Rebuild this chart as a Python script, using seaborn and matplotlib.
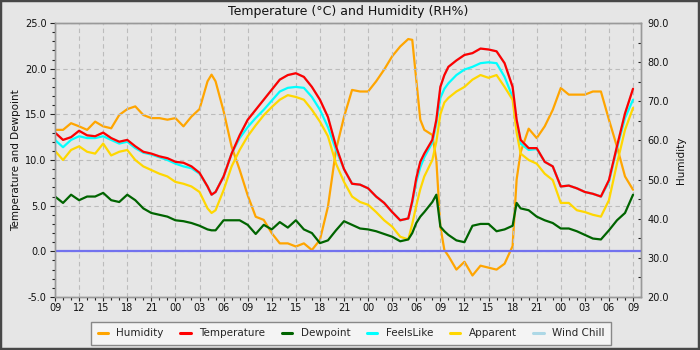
import matplotlib
matplotlib.use("Agg")
import matplotlib.pyplot as plt
import seaborn as sns
from matplotlib.patches import Rectangle
from matplotlib.ticker import MultipleLocator, FixedLocator, FormatStrFormatter

# ---------------- data (hours since 09:00 on day 1) ----------------
hours = [0, 1, 2, 3, 4, 5, 6, 7, 8, 9, 10, 11, 12, 13, 14, 15, 16, 17, 18, 19,
         19.5,
         20, 21, 22, 23, 24, 25, 26, 27, 28, 29, 30, 31, 32, 33, 34, 35, 36, 37, 38,
         39, 40, 41, 42, 43, 44,
         44.5, 45, 45.5, 46, 47, 47.5, 48, 48.5,
         49, 50, 51, 52, 53, 54, 55, 56, 57,
         57.5,
         58, 59, 60, 61, 62, 63, 64, 65, 66, 67, 68, 69, 70, 71, 72]

temperature = [13.0, 12.2, 12.5, 13.2, 12.7, 12.6, 13.0, 12.4, 12.0, 12.2, 11.5, 10.9, 10.7, 10.4, 10.2, 9.8, 9.7, 9.3, 8.6, 7.1,
               6.2,
               6.5, 8.2, 10.7, 12.7, 14.4, 15.5, 16.6, 17.7, 18.8, 19.3, 19.5, 19.1, 18.0, 16.6, 14.7, 11.5, 9.0, 7.4, 7.3,
               6.9, 6.0, 5.3, 4.3, 3.4, 3.6,
               5.5, 8.0, 9.8, 10.7, 12.2, 14.4, 18.0, 19.3,
               20.2, 20.9, 21.5, 21.7, 22.2, 22.1, 21.9, 20.6, 18.0,
               14.4,
               12.2, 11.3, 11.3, 9.8, 9.3, 7.1, 7.2, 6.9, 6.5, 6.3, 6.0, 7.8, 11.5, 15.1, 17.8]

feels_like = [12.2, 11.4, 12.2, 12.6, 12.4, 12.4, 12.6, 12.2, 11.8, 12.0, 11.3, 10.8, 10.6, 10.3, 10.0, 9.6, 9.3, 9.1, 8.5, 7.1,
              6.2,
              6.5, 8.2, 10.7, 12.4, 13.6, 14.6, 15.5, 16.5, 17.5, 17.9, 18.0, 17.9, 16.9, 15.5, 13.6, 11.1, 9.0, 7.4, 7.3,
              6.9, 6.0, 5.3, 4.3, 3.4, 3.6,
              5.3, 7.6, 9.2, 10.3, 11.9, 14.0, 16.8, 17.8,
              18.4, 19.3, 19.9, 20.2, 20.6, 20.7, 20.6, 19.1, 16.9,
              13.8,
              11.8, 11.1, 11.2, 9.8, 9.3, 7.1, 7.2, 6.9, 6.5, 6.3, 6.0, 7.6, 11.3, 14.6, 16.6]

apparent = [11.0, 10.0, 11.1, 11.5, 10.9, 10.7, 11.8, 10.5, 10.9, 11.1, 10.0, 9.3, 8.9, 8.5, 8.2, 7.6, 7.4, 7.1, 6.5, 4.7,
            4.2,
            4.5, 6.7, 9.3, 11.1, 12.6, 13.8, 14.9, 15.8, 16.6, 17.1, 16.9, 16.6, 15.5, 14.2, 12.6, 9.6, 7.6, 6.0, 5.4,
            5.1, 4.3, 3.4, 2.7, 1.6, 1.3,
            3.0, 5.0, 6.8, 8.2, 10.0, 12.0, 15.0, 16.3,
            16.8, 17.5, 18.0, 18.8, 19.3, 19.0, 19.3, 18.0, 16.6,
            13.0,
            10.7, 10.0, 9.6, 8.5, 7.8, 5.3, 5.3, 4.5, 4.3, 4.0, 3.8, 5.6, 9.6, 13.3, 15.7]

dewpoint = [6.0, 5.3, 6.2, 5.6, 6.0, 6.0, 6.4, 5.6, 5.4, 6.2, 5.6, 4.7, 4.2, 4.0, 3.8, 3.4, 3.3, 3.1, 2.8, 2.4,
            2.3,
            2.3, 3.4, 3.4, 3.4, 2.9, 1.9, 2.9, 2.4, 3.2, 2.6, 3.4, 2.4, 2.0, 0.9, 1.2, 2.3, 3.3, 2.9, 2.5,
            2.4, 2.2, 1.9, 1.6, 1.1, 1.3,
            2.0, 3.1, 3.8, 4.3, 5.4, 6.2, 2.7, 2.2,
            1.8, 1.2, 1.0, 2.8, 3.0, 3.0, 2.2, 2.4, 2.8,
            5.3,
            4.7, 4.5, 3.8, 3.4, 3.1, 2.5, 2.5, 2.2, 1.8, 1.4, 1.3, 2.3, 3.4, 4.2, 6.2]

humidity = [62.7, 62.7, 64.4, 63.6, 62.7, 64.8, 63.6, 63.1, 66.5, 68.0, 68.7, 66.5, 65.7, 65.7, 65.3, 65.7, 63.6, 66.1, 68.0, 75.1,
            76.8,
            75.1, 67.5, 58.4, 52.5, 46.0, 40.5, 39.7, 36.3, 33.7, 33.7, 32.9, 33.7, 32.0, 34.6, 43.1, 57.6, 66.0, 72.9, 72.5,
            72.5, 75.1, 78.1, 81.5, 84.0, 85.9,
            85.7, 75.5, 65.3, 62.7, 61.4, 55.0, 38.0, 32.0,
            30.5, 27.0, 29.0, 25.5, 28.0, 27.5, 27.0, 28.5, 33.0,
            50.0,
            57.0, 63.0, 60.6, 63.6, 67.8, 73.4, 71.7, 71.7, 71.7, 72.5, 72.5, 65.3, 58.4, 50.8, 47.4]

wind_chill = temperature  # hidden beneath the temperature trace

x_tick_labels = ["09", "12", "15", "18", "21", "00", "03", "06",
                 "09", "12", "15", "18", "21", "00", "03", "06",
                 "09", "12", "15", "18", "21", "00", "03", "06", "09"]
series_names = ["Humidity", "Temperature", "Dewpoint", "FeelsLike", "Apparent", "Wind Chill"]
series_colors = ["#ffa500", "#ff0000", "#006400", "#00ffff", "#ffd700", "#add8e6"]

# ---------------- styling ----------------
BG = "#e6e6e6"
sns.set_theme(style="white")
plt.rcParams["font.family"] = ["DejaVu Sans"]
plt.rcParams["axes.edgecolor"] = "#999999"

fig = plt.figure(figsize=(7, 3.5), dpi=100, facecolor=BG)
ax = fig.add_axes([55 / 700, 1 - 297 / 350, (640.5 - 55) / 700, (297 - 23) / 350])
ax2 = ax.twinx()
ax.set_zorder(ax2.get_zorder() + 1)
ax.patch.set_visible(False)
ax2.patch.set_visible(True)
ax2.set_facecolor(BG)

LW = 1.6
handles = {}

sns.lineplot(x=hours, y=humidity, ax=ax2, color=series_colors[0], lw=LW,
             estimator=None, legend=False)
handles["Humidity"] = ax2.get_lines()[-1]

order = [("FeelsLike", feels_like, 3), ("Apparent", apparent, 4),
         ("Dewpoint", dewpoint, 2), ("Wind Chill", wind_chill, 5),
         ("Temperature", temperature, 1)]
for name, vals, ci in order:
    sns.lineplot(x=hours, y=vals, ax=ax, color=series_colors[ci], lw=LW,
                 estimator=None, legend=False)
    handles[name] = ax.get_lines()[-1]

ax.axhline(0, color="#7272ee", lw=1.6, zorder=1.5)

# axes limits / ticks
ax.set_xlim(0, 72.93)
ax.set_ylim(-5, 25)
ax2.set_ylim(20, 90)

ax.xaxis.set_major_locator(FixedLocator(list(range(0, 73, 3))))
ax.set_xticklabels(x_tick_labels)
ax.xaxis.set_minor_locator(MultipleLocator(1))
ax.yaxis.set_major_locator(MultipleLocator(5))
ax.yaxis.set_minor_locator(MultipleLocator(1))
ax.yaxis.set_major_formatter(FormatStrFormatter("%.1f"))
ax2.yaxis.set_major_locator(MultipleLocator(10))
ax2.yaxis.set_minor_locator(MultipleLocator(5))
ax2.yaxis.set_major_formatter(FormatStrFormatter("%.1f"))

ax.tick_params(axis="x", which="major", direction="out", length=3.0, width=0.8,
               color="#222222", labelsize=7, pad=1.5, labelcolor="#111111", bottom=True)
ax.tick_params(axis="x", which="minor", direction="out", length=2.4, width=0.8,
               color="#222222", bottom=True)
ax.tick_params(axis="y", which="major", direction="out", length=3.6, width=0.8,
               color="#222222", labelsize=7, pad=2.5, labelcolor="#111111", left=True)
ax.tick_params(axis="y", which="minor", direction="out", length=1.9, width=0.8,
               color="#222222", left=True)
ax2.tick_params(axis="y", which="both", direction="in", length=2.3, width=0.8,
                color="#222222", labelsize=7, pad=5, labelcolor="#111111", right=True)

ax.grid(True, which="major", color="#bcbcbc", linestyle=(0, (4, 3)), lw=0.8)
ax.set_axisbelow(True)

for a in (ax, ax2):
    for s in a.spines.values():
        s.set_color("#999999")
        s.set_linewidth(1.0)

ax.set_title("Temperature (°C) and Humidity (RH%)", fontsize=9, pad=6, color="#111111")
ax.set_ylabel("Temperature and Dewpoint", fontsize=7.5, labelpad=3, color="#111111")
ax2.set_ylabel("Humidity", fontsize=7.5, labelpad=5, color="#111111")

leg = fig.legend([handles[n] for n in series_names], series_names,
                 loc="upper center", bbox_to_anchor=(351 / 700, 1 - 322 / 350),
                 ncol=6, fontsize=7.5, handlelength=1.0, handletextpad=0.8,
                 columnspacing=1.6, borderpad=0.6, borderaxespad=0,
                 frameon=True, fancybox=False, framealpha=1,
                 facecolor="#f4f4f4", edgecolor="#888888")
leg.get_frame().set_linewidth(1.0)
for h in leg.legend_handles:
    h.set_linewidth(2.2)

fig.add_artist(Rectangle((0, 0), 1, 1, transform=fig.transFigure, fill=False,
                         edgecolor="#474747", lw=3.2, zorder=100))

fig.savefig("out.png", dpi=100, facecolor=BG)
